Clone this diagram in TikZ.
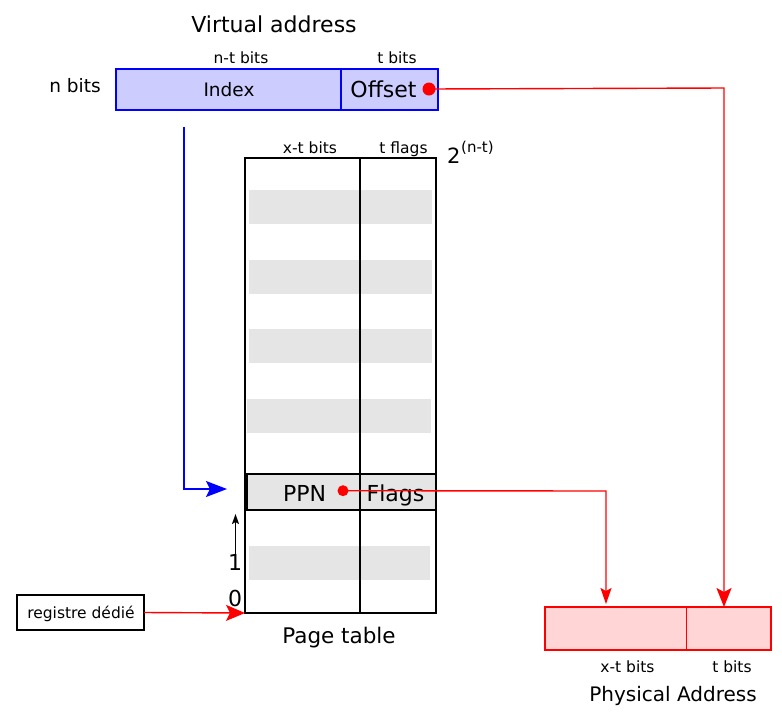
\documentclass[tikz,border=0pt]{standalone}
\usepackage{fontspec}
\setmainfont{DejaVu Sans}
\usetikzlibrary{arrows.meta}
\definecolor{vblue}{RGB}{0,0,255}
\definecolor{vfill}{RGB}{204,204,255}
\definecolor{pfill}{RGB}{255,213,213}
\definecolor{gband}{RGB}{229,229,229}
\newcommand{\fsz}[1]{\fontsize{#1}{#1}\selectfont}
\begin{document}
\begin{tikzpicture}[x=1pt,y=-1pt,
  cell/.style={rectangle, draw, inner sep=0pt, outer sep=0pt},
  lbl/.style={anchor=base, inner sep=0pt, outer sep=0pt},
  dotnode/.style={circle, fill=red, inner sep=0pt, outer sep=0pt, minimum size=#1},
  band/.style={fill=gband},
  redline/.style={draw=red, line width=1.4pt},
  blueline/.style={draw=vblue, line width=1.5pt}]
\useasboundingbox (0,0) rectangle (782,716);

% Virtual address
\node[lbl] (vtitle) at (274,32) {\fsz{22}Virtual address};
\node[lbl] (ntbits) at (241,63) {\fsz{15.5}n-t bits};
\node[lbl] (tbits) at (397,63) {\fsz{15.5}t bits};
\node[lbl] (nbits) at (75,92) {\fsz{18.5}n bits};
\node[cell, draw=vblue, fill=vfill, line width=1.9pt, minimum width=97pt, minimum height=41pt] (offset) at (389.5,89.5) {};
\node[cell, draw=vblue, fill=vfill, line width=2.8pt, minimum width=225pt, minimum height=41pt] (index) at (228.5,89.5) {};
\node[lbl] (indextxt) at (229,96) {\fsz{18.5}Index};
\node[lbl] (offsettxt) at (383.5,97.5) {\fsz{22}Offset};
\node[dotnode=13pt] (offdot) at (429,89) {};

% Page table
\foreach \ya/\yb/\xa/\xb in {190/224/249/432, 260/294/249/432, 329/363/249/432, 399/433/247/431, 546/580/249/430}
  \fill[band] (\xa,\ya) rectangle (\xb,\yb);
\node[cell, line width=2.4pt, minimum width=191pt, minimum height=455pt] (ptable) at (340.5,385.5) {};
\node[cell, fill=gband, line width=1.9pt, minimum width=189pt, minimum height=36pt] (ppnrow) at (341.5,492) {};
\draw[line width=2.4pt] (ptable.north west -| 360,0) coordinate (divtop) -- (ptable.south west -| 360,0) coordinate (divbot);
\node[lbl] (xtbits) at (310,153) {\fsz{15.5}x-t bits};
\node[lbl] (tflags) at (403.5,153) {\fsz{15.5}t flags};
\node[anchor=base west, inner sep=0pt] (two) at (447,163) {\fsz{21}2};
\node[anchor=base west, inner sep=0pt] (twoexp) at (461,152.5) {\fsz{15}(n-t)};
\node[lbl] (ppntxt) at (304.5,501) {\fsz{22}PPN};
\node[lbl] (flagstxt) at (395.5,501) {\fsz{22}Flags};
\node[dotnode=11pt] (ppndot) at (343,490.7) {};
\node[lbl] (one) at (235,570.5) {\fsz{22}1};
\node[lbl] (zero) at (235,606.5) {\fsz{22}0};
\node[lbl] (pttitle) at (339,643) {\fsz{21.5}Page table};
\coordinate (upA) at (235.5,554);
\coordinate (upB) at (235.5,514);
\draw[line width=1.5pt, -{Stealth[length=10pt,width=7pt,inset=2pt]}] (upA) -- (upB);

% registre
\node[cell, line width=1.6pt, minimum width=127pt, minimum height=35pt] (reg) at (80.5,612.5) {};
\node[lbl] (regtxt) at (81,618) {\fsz{15.5}registre dédié};
\draw[redline, -{Stealth[length=19pt,width=16pt,inset=4pt]}] (reg.east) -- (ptable.south west);

% Blue index arrow
\coordinate (bstart) at (184,127);
\coordinate (bcorner) at (184,489);
\coordinate (btip) at (227,489);
\draw[blueline, -{Stealth[length=21pt,width=16pt,inset=4pt]}] (bstart) -- (bcorner) -- (btip);

% Physical address
\node[cell, draw=red, fill=pfill, line width=1.9pt, minimum width=141.5pt, minimum height=43pt] (phys1) at (615.75,628.5) {};
\node[cell, draw=red, fill=pfill, line width=1.9pt, minimum width=84.5pt, minimum height=43pt] (phys2) at (728.75,628.5) {};
\node[lbl] (pxt) at (627.5,672) {\fsz{15.5}x-t bits};
\node[lbl] (pt) at (732,672) {\fsz{15.5}t bits};
\node[lbl] (phystitle) at (673,701.5) {\fsz{20}Physical Address};

% Red connectors
\coordinate (offcorner) at (724,88);
\draw[redline, -{Stealth[length=19pt,width=15pt,inset=4pt]}] (offdot.center) -- (offcorner) -- (offcorner |- phys2.north);
\coordinate (ppncorner) at (606,491);
\coordinate (ppntip) at (606,604);
\draw[redline, -{Stealth[length=16pt,width=11pt,inset=3pt]}] (ppndot.center) -- (ppncorner) -- (ppntip);
\end{tikzpicture}
\end{document}
